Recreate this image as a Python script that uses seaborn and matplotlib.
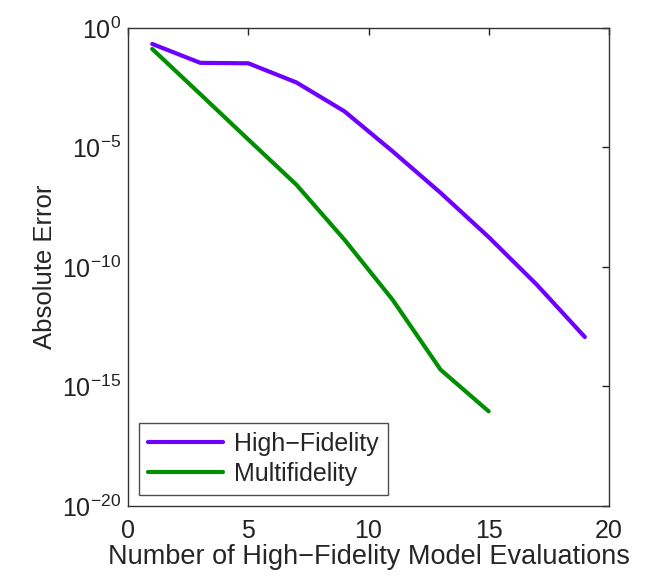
import numpy as np
import pandas as pd
import matplotlib
matplotlib.use('Agg')
import matplotlib.pyplot as plt
import seaborn as sns
from matplotlib.ticker import NullLocator

# values (log10 of absolute error)
hf_evals = [1, 3, 5, 7, 9, 11, 13, 15, 17, 19]
hf_log_err = [-0.67, -1.46, -1.48, -2.28, -3.49, -5.16, -6.9, -8.75, -10.74, -12.93]

mf_evals = [1, 3, 5, 7, 9, 11, 13, 15]
mf_log_err = [-0.88, -2.77, -4.67, -6.56, -8.86, -11.37, -14.3, -16.04]

series_names = ['High\u2212Fidelity', 'Multifidelity']
series_colors = ['#6E00FF', '#008F00']

df = pd.concat([
    pd.DataFrame({'evals': hf_evals, 'err': 10.0 ** np.array(hf_log_err), 'model': series_names[0]}),
    pd.DataFrame({'evals': mf_evals, 'err': 10.0 ** np.array(mf_log_err), 'model': series_names[1]}),
])

sns.set_style('white')
plt.rcParams['font.family'] = ['Liberation Sans', 'DejaVu Sans']
plt.rcParams['mathtext.fontset'] = 'custom'
plt.rcParams['mathtext.rm'] = 'Liberation Sans'

fig = plt.figure(figsize=(6.54, 5.76), dpi=100)
ax = fig.add_axes([0.196, 0.1215, 0.735, 0.830])

sns.lineplot(data=df, x='evals', y='err', hue='model', palette=series_colors,
             hue_order=series_names, linewidth=3, ax=ax)

ax.set_yscale('log')
ax.set_xlim(0, 20)
ax.set_ylim(1e-20, 1e0)
ax.set_xticks([0, 5, 10, 15, 20])
ax.set_yticks([1e-20, 1e-15, 1e-10, 1e-5, 1e0])
ax.yaxis.set_minor_locator(NullLocator())

ax.tick_params(direction='in', length=5, width=1, top=True, right=True,
               labelsize=18, colors='#222222', pad=5)
ax.tick_params(axis='x', pad=9)
for s in ax.spines.values():
    s.set_color('#333333')
    s.set_linewidth(1)

ax.set_xlabel('Number of High\u2212Fidelity Model Evaluations', fontsize=19.5, labelpad=1)
ax.set_ylabel('Absolute Error', fontsize=18.5, labelpad=4)

leg = ax.legend(loc='lower left', fontsize=18, frameon=True, fancybox=False,
                edgecolor='#222222', handlelength=3.0, borderaxespad=0.45,
                borderpad=0.35, labelspacing=0.25, handletextpad=0.45)
leg.get_frame().set_linewidth(1)

fig.savefig('out.png', dpi=100)
